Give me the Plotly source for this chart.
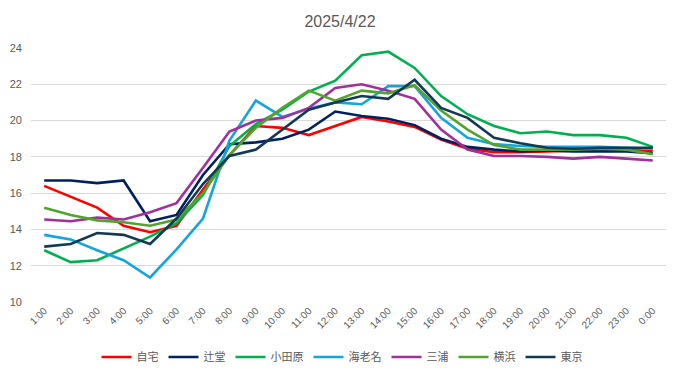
import plotly.graph_objects as go

hours = ["1:00", "2:00", "3:00", "4:00", "5:00", "6:00", "7:00", "8:00", "9:00", "10:00",
         "11:00", "12:00", "13:00", "14:00", "15:00", "16:00", "17:00", "18:00", "19:00",
         "20:00", "21:00", "22:00", "23:00", "0:00"]

jitaku = [16.4, 15.8, 15.2, 14.2, 13.85, 14.2, 16.2, 18.1, 19.7, 19.6, 19.2, 19.7,
          20.2, 19.95, 19.65, 18.95, 18.45, 18.25, 18.25, 18.3, 18.35, 18.4, 18.4, 18.3]
tsujido = [16.7, 16.7, 16.55, 16.7, 14.45, 14.8, 17.0, 18.7, 18.8, 19.0, 19.5, 20.5,
           20.25, 20.1, 19.75, 19.0, 18.55, 18.4, 18.3, 18.35, 18.3, 18.3, 18.3, 18.2]
odawara = [12.85, 12.2, 12.3, 12.95, 13.6, 14.35, 15.9, 18.6, 19.8, 20.6, 21.6, 22.2,
           23.6, 23.8, 22.9, 21.35, 20.35, 19.7, 19.3, 19.4, 19.2, 19.2, 19.05, 18.55]
ebina = [13.7, 13.45, 12.85, 12.3, 11.35, 12.9, 14.6, 18.9, 21.1, 20.2, 20.65, 21.0,
         20.9, 21.9, 21.9, 20.15, 19.05, 18.7, 18.6, 18.55, 18.55, 18.55, 18.5, 18.45]
miura = [14.55, 14.45, 14.65, 14.55, 14.95, 15.45, 17.4, 19.4, 20.0, 20.15, 20.7, 21.8,
         22.0, 21.65, 21.2, 19.5, 18.4, 18.05, 18.05, 18.0, 17.9, 18.0, 17.9, 17.8]
yokohama = [15.2, 14.8, 14.5, 14.4, 14.2, 14.55, 16.0, 18.1, 19.6, 20.7, 21.65, 21.1,
            21.65, 21.5, 21.95, 20.55, 19.5, 18.65, 18.4, 18.4, 18.4, 18.45, 18.4, 18.15]
tokyo = [13.05, 13.2, 13.8, 13.7, 13.2, 14.6, 16.5, 18.05, 18.4, 19.5, 20.6, 21.0,
         21.35, 21.2, 22.25, 20.7, 20.15, 19.05, 18.75, 18.5, 18.45, 18.5, 18.5, 18.5]

series = [
    ("自宅", jitaku, "#FF0000"),
    ("辻堂", tsujido, "#002060"),
    ("小田原", odawara, "#00B050"),
    ("海老名", ebina, "#14A5DE"),
    ("三浦", miura, "#A0309C"),
    ("横浜", yokohama, "#52A42E"),
    ("東京", tokyo, "#123B53"),
]

font_family = "Noto Sans CJK JP, Noto Sans, sans-serif"
num_family = "Liberation Sans, Arial, sans-serif"

# page body has an 8px margin, so the figure is drawn at (8, 8)
W, H = 673, 371
L, R, T, B = 23, 15, 40, 77
pw, ph = W - L - R, H - T - B

fig = go.Figure()
for name, vals, color in series:
    fig.add_trace(go.Scatter(x=hours, y=vals, name=name, mode="lines",
                             line=dict(color=color, width=2.6)))

fig.update_layout(
    width=W, height=H,
    margin=dict(l=L, r=R, t=T, b=B, autoexpand=False),
    paper_bgcolor="white", plot_bgcolor="white",
    font=dict(family=font_family, color="#595959"),
    title=dict(text="2025/4/22", x=(340 - 8 - L) / pw, xref="paper", xanchor="center",
               y=1 - 13.5 / H, yanchor="middle", yref="container",
               font=dict(size=16, color="#595959", family=num_family)),
    showlegend=True,
    legend=dict(orientation="h", x=(342 - 8 - L) / pw, xanchor="center",
                y=-(357 - 302) / ph, yanchor="middle",
                font=dict(size=11, color="#595959"), itemwidth=30,
                tracegroupgap=0, traceorder="normal"),
    xaxis=dict(type="category", range=[-0.5, 23.5], tickangle=-45, automargin=False,
               tickfont=dict(size=10, color="#595959", family=num_family), showgrid=False,
               showline=False, ticks="", zeroline=False),
    yaxis=dict(range=[10, 24], dtick=2, automargin=False,
               tickfont=dict(size=11, color="#595959", family=num_family),
               showgrid=True, gridcolor="#D9D9D9", gridwidth=1, zeroline=False,
               showline=False, ticks="", ticklabelstandoff=8),
    shapes=[dict(type="line", xref="paper", yref="paper",
                 x0=1 + (R - 1) / pw, x1=1 + (R - 1) / pw,
                 y0=-B / ph, y1=1 + T / ph,
                 line=dict(color="#D9D9D9", width=1), layer="below")],
)

fig.write_html("out.html")
